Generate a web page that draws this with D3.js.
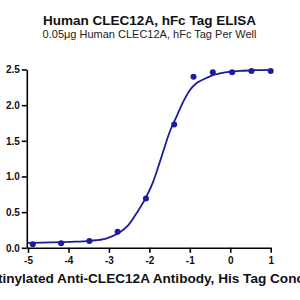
<!DOCTYPE html>
<html>
<head>
<meta charset="utf-8">
<script src="https://cdn.jsdelivr.net/npm/d3@7"></script>
<style>
  body { margin: 0; background: #fff; }
  svg { display: block; font-family: "Liberation Sans", Arial, sans-serif; }
  .axis path, .axis line { stroke: #000; stroke-width: 1.6px; }
  .axis text { fill: #111; font-size: 10px; font-weight: bold; }
</style>
</head>
<body>
<div id="elisa-chart"></div>
<script>
// titles
var title = "Human CLEC12A, hFc Tag ELISA";
var subtitle = "0.05\u03bcg Human CLEC12A, hFc Tag Per Well";
var xLabel = "Biotinylated Anti-CLEC12A Antibody, His Tag Concentration (log \u03bcg/ml)";

// measured points (log conc vs OD)
var logConc = [-4.881, -4.182, -3.483, -2.784, -2.085, -1.386, -0.908, -0.431, 0.046, 0.523, 1.0];
var od450 = [0.05, 0.063, 0.095, 0.226, 0.69, 1.73, 2.40, 2.46, 2.46, 2.48, 2.48];

// fitted curve
var fitX = [-5.0, -4.46, -3.96, -3.47, -3.07, -2.78, -2.53, -2.31, -2.09, -1.91, -1.72, -1.50,
            -1.32, -1.17, -1.00, -0.83, -0.63, -0.43, -0.13, 0.24, 0.62, 1.0];
var fitY = [0.070, 0.076, 0.084, 0.098, 0.13, 0.20, 0.31, 0.49, 0.70, 0.92, 1.24, 1.62,
            1.85, 2.04, 2.21, 2.31, 2.37, 2.42, 2.46, 2.48, 2.49, 2.495];

// ticks
var xTicks = [-5, -4, -3, -2, -1, 0, 1];
var yTicks = [0, 0.5, 1.0, 1.5, 2.0, 2.5];

var color = "#1c1c9c";
var width = 300, height = 300;

var svg = d3.select("#elisa-chart").append("svg")
  .attr("width", width)
  .attr("height", height);

var x = d3.scaleLinear().domain([-5.03, 1]).range([26.8, 270.7]);
var y = d3.scaleLinear().domain([0, 2.5]).range([247.8, 69.5]);

// title + subtitle
svg.append("text")
  .attr("x", 149.5).attr("y", 25)
  .attr("text-anchor", "middle")
  .style("font-size", "13.5px").style("font-weight", "bold").style("fill", "#111")
  .text(title);
svg.append("text")
  .attr("x", 149.5).attr("y", 37.7)
  .attr("text-anchor", "middle")
  .style("font-size", "11px").style("fill", "#222")
  .text(subtitle);

// axes
svg.append("g")
  .attr("class", "axis")
  .attr("transform", "translate(0," + y(0) + ")")
  .call(d3.axisBottom(x)
    .tickValues(xTicks)
    .tickSizeInner(5)
    .tickSizeOuter(0)
    .tickPadding(4)
    .tickFormat(function(d) { return String(d); }));

svg.append("g")
  .attr("class", "axis")
  .attr("transform", "translate(" + x.range()[0] + ",0)")
  .call(d3.axisLeft(y)
    .tickValues(yTicks)
    .tickSizeInner(5)
    .tickSizeOuter(0)
    .tickPadding(2)
    .tickFormat(d3.format(".1f")));

// x label is wider than the chart, cut at both edges like the original
svg.append("text")
  .attr("x", -24).attr("y", 282.5)
  .style("font-size", "13.6px").style("font-weight", "bold").style("fill", "#111")
  .text(xLabel);

// fit line
var line = d3.line()
  .x(function(d) { return x(d[0]); })
  .y(function(d) { return y(d[1]); })
  .curve(d3.curveMonotoneX);

svg.append("path")
  .datum(d3.zip(fitX, fitY))
  .attr("fill", "none")
  .attr("stroke", color)
  .attr("stroke-width", 1.8)
  .attr("d", line);

// points
svg.selectAll("circle.pt")
  .data(d3.zip(logConc, od450))
  .enter().append("circle")
  .attr("class", "pt")
  .attr("cx", function(d) { return x(d[0]); })
  .attr("cy", function(d) { return y(d[1]); })
  .attr("r", 3)
  .attr("fill", color);
</script>
</body>
</html>
